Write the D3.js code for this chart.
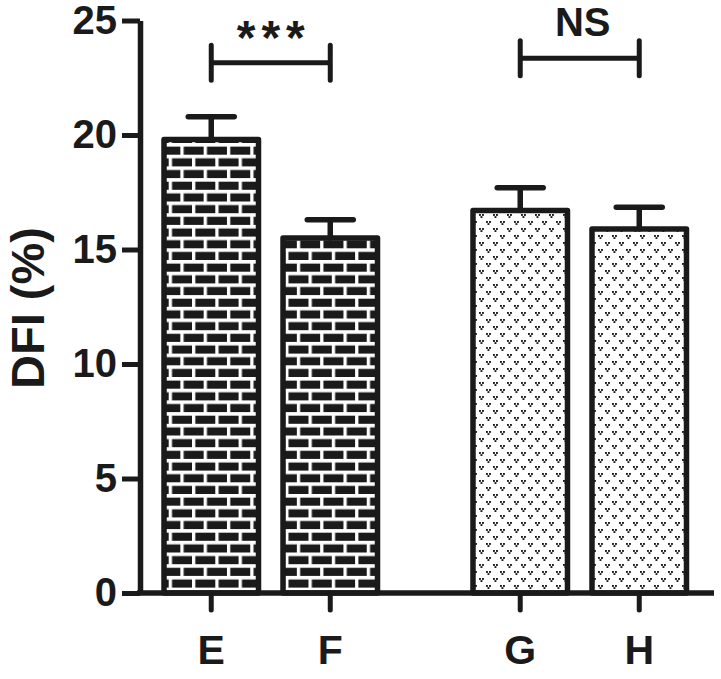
<!DOCTYPE html>
<html>
<head>
<meta charset="utf-8">
<script src="https://d3js.org/d3.v7.min.js"></script>
<style>
  body { margin: 0; background: #fff; }
  text { font-family: "Liberation Sans", Arial, sans-serif; font-weight: bold; fill: #1a1a1a; }
</style>
</head>
<body>
<svg id="chart" width="721" height="679"></svg>
<script>
var categories = ["E", "F", "G", "H"];
var pairs = [["E", "F"], ["G", "H"]];
var means = [19.8, 15.5, 16.7, 15.9];
var sems = [1.0, 0.8, 1.0, 0.95];
var yTicks = [0, 5, 10, 15, 20, 25];
var sigLabels = ["***", "NS"];
var sigLevels = [23.15, 23.35];

var ink = "#1a1a1a";
var svg = d3.select("#chart");

var y = d3.scaleLinear().domain([0, 25]).range([593, 20.5]);
// one band per pair, then one band per bar inside the pair
var outer = d3.scaleBand().domain(d3.range(pairs.length)).range([164, 686.5]).paddingInner(0.309);
var inner = d3.scaleBand().domain([0, 1]).range([0, outer.bandwidth()]).paddingInner(0.206);

function pairIndex(c) {
  return pairs.findIndex(function(p) { return p.indexOf(c) >= 0; });
}
function barX(c) {
  var p = pairIndex(c);
  return outer(p) + inner(pairs[p].indexOf(c));
}
function barMid(c) {
  return barX(c) + inner.bandwidth() / 2;
}

// fill patterns
var defs = svg.append("defs");

var brick = defs.append("pattern").attr("id", "brick")
  .attr("patternUnits", "userSpaceOnUse")
  .attr("x", 180.35).attr("y", 143)
  .attr("width", 23.3).attr("height", 23.4);
brick.append("rect").attr("width", 23.3).attr("height", 23.4).attr("fill", ink);
brick.append("rect").attr("y", 0).attr("width", 23.3).attr("height", 3.6).attr("fill", "#fff");
brick.append("rect").attr("y", 11.7).attr("width", 23.3).attr("height", 3.6).attr("fill", "#fff");
brick.append("rect").attr("x", 0).attr("y", 0).attr("width", 3.3).attr("height", 11.7).attr("fill", "#fff");
brick.append("rect").attr("x", 11.65).attr("y", 11.7).attr("width", 3.3).attr("height", 11.7).attr("fill", "#fff");

var dots = defs.append("pattern").attr("id", "dots")
  .attr("patternUnits", "userSpaceOnUse")
  .attr("x", 2).attr("y", 3)
  .attr("width", 14).attr("height", 14);
dots.append("rect").attr("width", 14).attr("height", 14).attr("fill", "#fff");
[[1, 1], [8, 8]].forEach(function(m) {
  [[0, 0], [3, 0], [1.5, 2.1]].forEach(function(d) {
    dots.append("rect")
      .attr("x", m[0] + d[0]).attr("y", m[1] + d[1])
      .attr("width", 1.9).attr("height", 1.9)
      .attr("fill", ink);
  });
});

// bars
svg.append("g").selectAll("rect")
  .data(categories)
  .enter().append("rect")
    .attr("x", function(c) { return barX(c); })
    .attr("y", function(c, i) { return y(means[i]); })
    .attr("width", inner.bandwidth())
    .attr("height", function(c, i) { return y(0) - y(means[i]); })
    .attr("fill", function(c) { return pairIndex(c) == 0 ? "url(#brick)" : "url(#dots)"; })
    .attr("stroke", ink)
    .attr("stroke-width", 5.5)
    .attr("stroke-linejoin", "round");

// error bars (upper half only)
svg.append("g").selectAll("path")
  .data(categories)
  .enter().append("path")
    .attr("d", function(c, i) {
      var x = barMid(c), top = y(means[i] + sems[i]);
      return "M" + (x - 23) + "," + top + "H" + (x + 23) + "M" + x + "," + top + "V" + y(means[i]);
    })
    .attr("fill", "none")
    .attr("stroke", ink)
    .attr("stroke-width", 5.5)
    .attr("stroke-linecap", "round");

// y axis
var yAxis = svg.append("g")
  .attr("transform", "translate(140,0)")
  .call(d3.axisLeft(y).tickValues(yTicks).tickSize(18).tickPadding(5).tickSizeOuter(0));
yAxis.select(".domain").attr("stroke", ink).attr("stroke-width", 5.5);
yAxis.selectAll(".tick line").attr("stroke", ink).attr("stroke-width", 5);
yAxis.selectAll(".tick text")
  .attr("font-size", 40)
  .attr("font-family", null)
  .attr("fill", ink);

// x axis
svg.append("line")
  .attr("x1", 137).attr("x2", 714)
  .attr("y1", y(0)).attr("y2", y(0))
  .attr("stroke", ink).attr("stroke-width", 5.5);

svg.append("g").selectAll("line")
  .data(categories)
  .enter().append("line")
    .attr("x1", function(c) { return barMid(c); })
    .attr("x2", function(c) { return barMid(c); })
    .attr("y1", y(0))
    .attr("y2", y(0) + 17)
    .attr("stroke", ink)
    .attr("stroke-width", 5)
    .attr("stroke-linecap", "round");

svg.append("g").selectAll("text")
  .data(categories)
  .enter().append("text")
    .attr("x", function(c) { return barMid(c); })
    .attr("y", 664)
    .attr("text-anchor", "middle")
    .attr("font-size", 41)
    .text(function(c) { return c; });

// y axis title
svg.append("text")
  .attr("transform", "translate(44,308) rotate(-90)")
  .attr("text-anchor", "middle")
  .attr("font-size", 47)
  .text("DFI (%)");

// significance brackets
pairs.forEach(function(p, i) {
  var x1 = barMid(p[0]), x2 = barMid(p[1]), by = y(sigLevels[i]);
  svg.append("path")
    .attr("d", "M" + x1 + "," + (by - 17.5) + "V" + (by + 17.5) +
               "M" + x1 + "," + by + "H" + x2 +
               "M" + x2 + "," + (by - 17.5) + "V" + (by + 17.5))
    .attr("fill", "none")
    .attr("stroke", ink)
    .attr("stroke-width", 5)
    .attr("stroke-linecap", "round");

  var stars = sigLabels[i].indexOf("*") >= 0;
  svg.append("text")
    .attr("x", (x1 + x2) / 2 + 3)
    .attr("y", stars ? by - 9 : by - 22)
    .attr("text-anchor", "middle")
    .attr("font-size", stars ? 48 : 40)
    .attr("letter-spacing", stars ? 6 : 0)
    .text(sigLabels[i]);
});
</script>
</body>
</html>
